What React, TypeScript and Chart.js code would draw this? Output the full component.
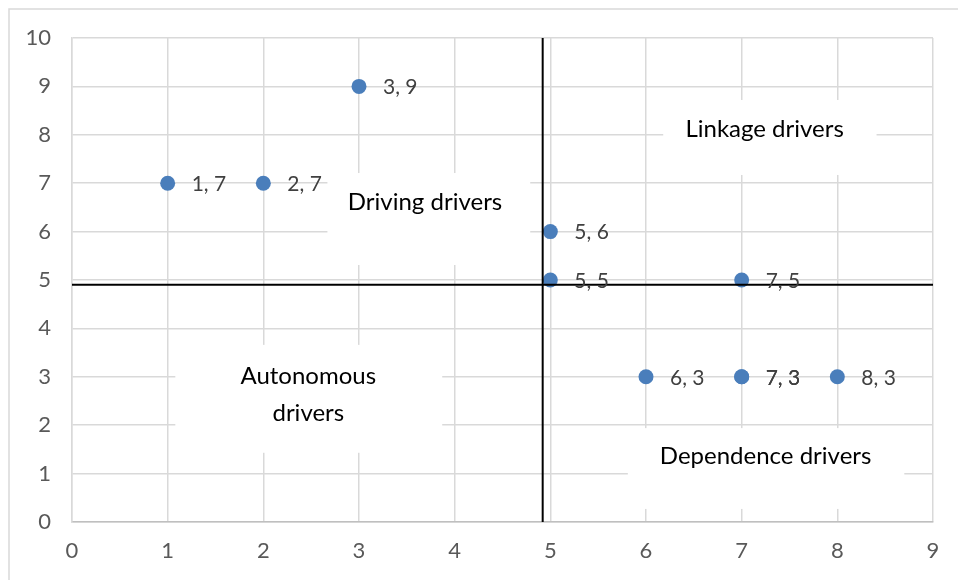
import React, { useEffect, useRef } from "react";
import { Chart, registerables } from "chart.js";

Chart.register(...registerables);

// Data points (x, y); (7,3) appears twice in the source
const pointX = [1, 2, 3, 5, 5, 7, 6, 7, 7, 8];
const pointY = [7, 7, 9, 6, 5, 5, 3, 3, 3, 3];

// Quadrant divider positions (data units)
const dividerX = 4.92;
const dividerY = 4.9;

// Axis ranges
const xMin = 0, xMax = 9;
const yMin = 0, yMax = 10;

// Quadrant labels: text lines, text centre (data units), white box [x1, x2, y1, y2] (data units)
const quadrantLabels = [
  { lines: ["Linkage drivers"], cx: 7.24, cy: 8.12, box: [6.18, 8.41, 8.72, 7.17] },
  { lines: ["Driving drivers"], cx: 3.69, cy: 6.61, box: [2.67, 4.79, 7.21, 5.31] },
  { lines: ["Autonomous", "drivers"], cx: 2.47, cy: 2.63, box: [1.08, 3.87, 3.66, 1.43] },
  { lines: ["Dependence drivers"], cx: 7.25, cy: 1.36, box: [5.81, 8.7, 1.94, 0.27] },
];

const FONT = "Lato, 'Open Sans', sans-serif";

const decorPlugin = {
  id: "decor",
  beforeDraw(chart: any) {
    const ctx = chart.ctx;
    ctx.save();
    ctx.fillStyle = "#ffffff";
    ctx.fillRect(0, 0, chart.width, chart.height);
    ctx.strokeStyle = "#d9d9d9";
    ctx.lineWidth = 1.5;
    ctx.beginPath();
    ctx.moveTo(9, chart.height + 5);
    ctx.lineTo(9, 9);
    ctx.lineTo(chart.width + 5, 9);
    ctx.stroke();
    ctx.restore();
  },
  beforeDatasetsDraw(chart: any) {
    const ctx = chart.ctx;
    const xs = chart.scales.x;
    const ys = chart.scales.y;
    ctx.save();
    quadrantLabels.forEach((q) => {
      const x1 = xs.getPixelForValue(q.box[0]);
      const x2 = xs.getPixelForValue(q.box[1]);
      const y1 = ys.getPixelForValue(q.box[2]);
      const y2 = ys.getPixelForValue(q.box[3]);
      ctx.fillStyle = "#ffffff";
      ctx.fillRect(x1, y1, x2 - x1, y2 - y1);
    });
    ctx.fillStyle = "#000000";
    ctx.font = `24px ${FONT}`;
    ctx.textAlign = "center";
    ctx.textBaseline = "middle";
    quadrantLabels.forEach((q) => {
      const cx = xs.getPixelForValue(q.cx);
      const cy = ys.getPixelForValue(q.cy);
      const lh = 37;
      const n = q.lines.length;
      q.lines.forEach((line, i) => {
        ctx.fillText(line, cx, cy + (i - (n - 1) / 2) * lh);
      });
    });
    ctx.restore();
  },
  afterDatasetsDraw(chart: any) {
    const ctx = chart.ctx;
    const meta = chart.getDatasetMeta(2);
    ctx.save();
    ctx.fillStyle = "#404040";
    ctx.font = `21px ${FONT}`;
    ctx.textAlign = "left";
    ctx.textBaseline = "middle";
    meta.data.forEach((el: any, i: number) => {
      ctx.fillText(`${pointX[i]}, ${pointY[i]}`, el.x + 24, el.y + 1);
    });
    ctx.restore();
  },
};

export default function App() {
  const ref = useRef<HTMLCanvasElement | null>(null);
  useEffect(() => {
    if (!ref.current) return;
    const chart = new Chart(ref.current, {
      type: "scatter",
      data: {
        datasets: [
          {
            type: "line",
            data: [
              { x: dividerX, y: yMin },
              { x: dividerX, y: yMax },
            ],
            borderColor: "#000000",
            borderWidth: 2,
            pointRadius: 0,
            showLine: true,
            fill: false,
          } as any,
          {
            type: "line",
            data: [
              { x: xMin, y: dividerY },
              { x: xMax, y: dividerY },
            ],
            borderColor: "#000000",
            borderWidth: 2,
            pointRadius: 0,
            showLine: true,
            fill: false,
          } as any,
          {
            data: pointX.map((x, i) => ({ x, y: pointY[i] })),
            backgroundColor: "#4a7ebb",
            borderColor: "#4a7ebb",
            pointRadius: 7.5,
            pointBorderWidth: 0,
          },
        ],
      },
      options: {
        animation: false,
        responsive: false,
        layout: { padding: { top: 38, right: 25, left: 0, bottom: 0 } },
        plugins: { legend: { display: false }, tooltip: { enabled: false } },
        scales: {
          x: {
            type: "linear",
            min: xMin,
            max: xMax,
            afterFit: (s: any) => {
              s.height = 58;
            },
            ticks: {
              stepSize: 1,
              color: "#595959",
              font: { family: FONT, size: 22 },
              padding: 16,
            },
            grid: { color: "#d9d9d9", lineWidth: 1.5, drawTicks: false },
            border: { display: true, color: "#bfbfbf", width: 1.5 },
          },
          y: {
            type: "linear",
            min: yMin,
            max: yMax,
            afterFit: (s: any) => {
              s.width = 72;
            },
            ticks: {
              stepSize: 1,
              color: "#595959",
              font: { family: FONT, size: 22 },
              padding: 21,
            },
            grid: { color: "#d9d9d9", lineWidth: 1.5, drawTicks: false },
            border: { display: true, color: "#d9d9d9", width: 1.5 },
          },
        },
      },
      plugins: [decorPlugin],
    });
    return () => chart.destroy();
  }, []);
  return (
    <div style={{ position: "absolute", left: 0, top: 0, width: 958, height: 580 }}>
      <canvas ref={ref} width={958} height={580} style={{ display: "block" }} />
    </div>
  );
}
